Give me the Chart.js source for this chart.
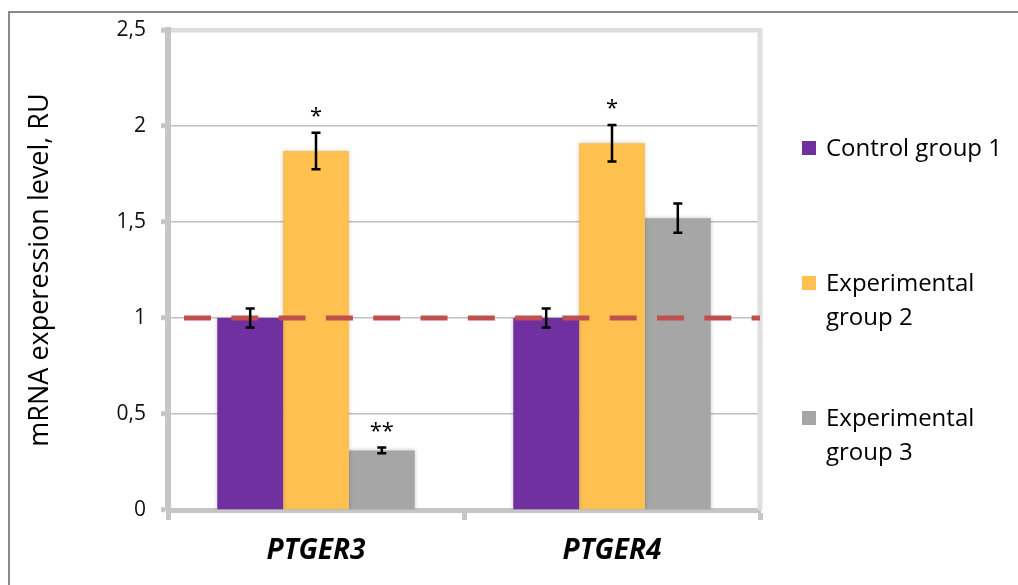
<!DOCTYPE html>
<html>
<head>
<meta charset="utf-8">
<title>PTGER3 / PTGER4 mRNA expression</title>
<script src="https://cdn.jsdelivr.net/npm/chart.js@4.4.1/dist/chart.umd.min.js"></script>
<style>
  html, body { margin: 0; padding: 0; background: #ffffff; }
  #wrap { position: relative; width: 1018px; height: 585px; }
  canvas { display: block; }
</style>
</head>
<body>
<div id="wrap"><canvas id="chart" width="1018" height="585"></canvas></div>
<script>
// ---- data ----
const genes = ['PTGER3', 'PTGER4'];
const groupNames = ['Control group 1', 'Experimental group 2', 'Experimental group 3'];
const legendLines = [['Control group 1'], ['Experimental', 'group 2'], ['Experimental', 'group 3']];

const control1 = [1.00, 1.00];
const experimental2 = [1.87, 1.91];
const experimental3 = [0.31, 1.52];

const control1Err = [0.05, 0.05];
const experimental2Err = [0.095, 0.095];
const experimental3Err = [0.015, 0.076];

const control1Sig = ['', ''];
const experimental2Sig = ['*', '*'];
const experimental3Sig = ['**', ''];

const yTickValues = [0, 0.5, 1, 1.5, 2, 2.5];
const yTickLabels = ['0', '0,5', '1', '1,5', '2', '2,5'];
const referenceLevel = 1;

// ---- styling ----
const FONT = "'Open Sans', 'DejaVu Sans', sans-serif";
const groupColors = ['#7030a0', '#fec150', '#a6a6a6'];
const axisGray = '#c6c6c6';

const seriesValues = [control1, experimental2, experimental3];
const seriesErrors = [control1Err, experimental2Err, experimental3Err];
const seriesSig = [control1Sig, experimental2Sig, experimental3Sig];

// Outer frame of the figure (left and top edges)
const framePlugin = {
  id: 'figureFrame',
  beforeDraw(chart) {
    const ctx = chart.ctx;
    ctx.save();
    ctx.fillStyle = '#ffffff';
    ctx.fillRect(0, 0, chart.width, chart.height);
    ctx.strokeStyle = '#888888';
    ctx.lineWidth = 2;
    ctx.beginPath();
    ctx.moveTo(9, chart.height);
    ctx.lineTo(9, 12);
    ctx.lineTo(chart.width, 12);
    ctx.stroke();
    ctx.restore();
  }
};

// Right edge of the plot area
const plotEdgePlugin = {
  id: 'plotEdge',
  beforeDatasetsDraw(chart) {
    const { ctx, chartArea } = chart;
    ctx.save();
    ctx.strokeStyle = '#dedede';
    ctx.lineWidth = 5;
    ctx.beginPath();
    ctx.moveTo(chartArea.right, chartArea.top - 2);
    ctx.lineTo(chartArea.right, chartArea.bottom);
    ctx.stroke();
    ctx.restore();
    // soft edge around the bars
    ctx.save();
    ctx.shadowColor = 'rgba(0,0,0,0.22)';
    ctx.shadowBlur = 4;
  },
  afterDatasetsDraw(chart) {
    chart.ctx.restore();
  }
};

// Reference level, error bars and significance marks
const overlayPlugin = {
  id: 'overlay',
  afterDatasetsDraw(chart) {
    const { ctx, chartArea } = chart;
    const yScale = chart.scales.y;

    // dashed reference line
    const yRef = yScale.getPixelForValue(referenceLevel);
    ctx.save();
    ctx.strokeStyle = '#c0504d';
    ctx.lineWidth = 5;
    ctx.setLineDash([27, 20.3]);
    ctx.beginPath();
    ctx.moveTo(chartArea.left + 16, yRef);
    ctx.lineTo(chartArea.right, yRef);
    ctx.stroke();
    ctx.restore();

    // error bars
    ctx.save();
    ctx.strokeStyle = '#000000';
    ctx.lineWidth = 2.5;
    seriesValues.forEach((vals, di) => {
      const meta = chart.getDatasetMeta(di);
      meta.data.forEach((bar, j) => {
        const err = seriesErrors[di][j];
        const yTop = yScale.getPixelForValue(vals[j] + err);
        const yBot = yScale.getPixelForValue(vals[j] - err);
        const x = bar.x;
        const cap = 4.5;
        ctx.beginPath();
        ctx.moveTo(x, yTop); ctx.lineTo(x, yBot);
        ctx.moveTo(x - cap, yTop); ctx.lineTo(x + cap, yTop);
        ctx.moveTo(x - cap, yBot); ctx.lineTo(x + cap, yBot);
        ctx.stroke();
      });
    });
    ctx.restore();

    // significance asterisks
    ctx.save();
    ctx.fillStyle = '#000000';
    ctx.font = '22px ' + FONT;
    ctx.textAlign = 'center';
    ctx.textBaseline = 'alphabetic';
    seriesSig.forEach((marks, di) => {
      const meta = chart.getDatasetMeta(di);
      meta.data.forEach((bar, j) => {
        const s = marks[j];
        if (!s) return;
        const yTop = yScale.getPixelForValue(seriesValues[di][j] + seriesErrors[di][j]);
        const centerY = yTop - 21;
        const m = ctx.measureText(s);
        const shift = (m.actualBoundingBoxAscent - m.actualBoundingBoxDescent) / 2;
        ctx.fillText(s, bar.x, centerY + shift);
      });
    });
    ctx.restore();
  }
};

// Legend on the right, with wrapped labels
const legendPlugin = {
  id: 'sideLegend',
  afterDraw(chart) {
    const { ctx, chartArea } = chart;
    const mid = (chartArea.top + chartArea.bottom) / 2 + 13;
    const spacing = 135;
    const lineH = 34;
    const boxX = chartArea.right + 42;
    const textX = boxX + 24;
    ctx.save();
    ctx.font = '24px ' + FONT;
    ctx.textBaseline = 'middle';
    ctx.textAlign = 'left';
    legendLines.forEach((lines, i) => {
      const cy = mid + (i - 1) * spacing;
      ctx.fillStyle = groupColors[i];
      ctx.fillRect(boxX, cy - 7, 14, 14);
      ctx.fillStyle = '#000000';
      lines.forEach((t, k) => ctx.fillText(t, textX, cy + 1 + k * lineH));
    });
    ctx.restore();
  }
};

const datasets = groupNames.map((name, i) => ({
  label: name,
  data: seriesValues[i],
  backgroundColor: groupColors[i],
  borderWidth: 0,
  categoryPercentage: 0.667,
  barPercentage: 1.0
}));

new Chart(document.getElementById('chart'), {
  type: 'bar',
  data: { labels: genes, datasets },
  plugins: [framePlugin, plotEdgePlugin, overlayPlugin, legendPlugin],
  options: {
    responsive: false,
    animation: false,
    devicePixelRatio: 1,
    layout: { padding: { left: 0, top: 30, right: 258, bottom: 0 } },
    plugins: {
      legend: { display: false },
      tooltip: { enabled: false }
    },
    scales: {
      x: {
        offset: true,
        grid: {
          display: true,
          offset: true,
          drawOnChartArea: false,
          drawTicks: true,
          tickLength: 10,
          tickWidth: 5,
          tickColor: axisGray,
          color: axisGray
        },
        border: { display: true, color: axisGray, width: 5 },
        ticks: {
          color: '#000000',
          padding: 14,
          font: { family: FONT, size: 28, style: 'italic', weight: 'bold' }
        },
        afterFit(scale) { scale.height = 75; }
      },
      y: {
        min: 0,
        max: 2.5,
        afterBuildTicks(scale) {
          scale.ticks = yTickValues.map(v => ({ value: v }));
        },
        grid: {
          drawTicks: true,
          tickLength: 7,
          tickWidth: 5,
          tickColor: axisGray,
          color: ctx => (ctx.tick && ctx.tick.value === 2.5) ? '#dcdcdc' : '#c0c0c0',
          lineWidth: ctx => (ctx.tick && ctx.tick.value === 2.5) ? 4.5 : 1.5
        },
        border: { display: true, color: axisGray, width: 6 },
        ticks: {
          color: '#111111',
          padding: 15,
          font: { family: FONT, size: 21 },
          callback(value) {
            const i = yTickValues.indexOf(value);
            return i >= 0 ? yTickLabels[i] : '';
          }
        },
        title: {
          display: true,
          text: 'mRNA experession level, RU',
          color: '#000000',
          font: { family: FONT, size: 27 },
          padding: { top: 24, bottom: 0 }
        },
        afterFit(scale) { scale.width = 168; }
      }
    }
  }
});
</script>
</body>
</html>
